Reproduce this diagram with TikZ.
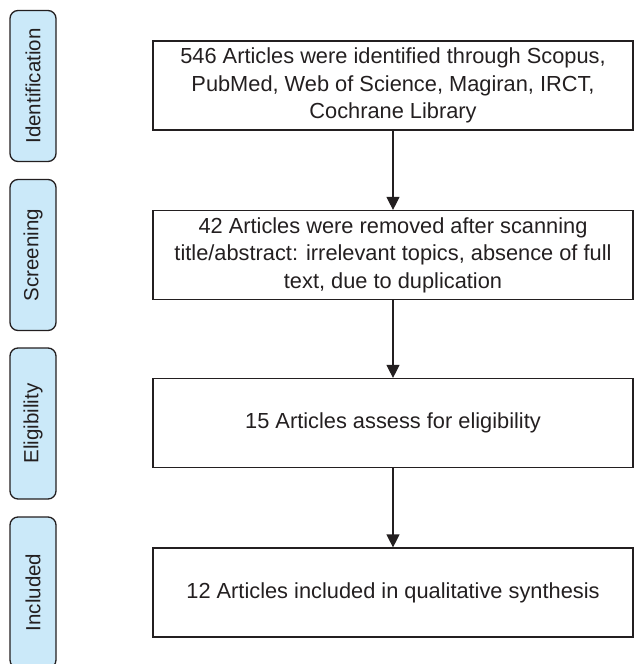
\documentclass[tikz,border=0pt]{standalone}
\usepackage{fontspec}
\setmainfont{Liberation Sans}
\usetikzlibrary{arrows.meta}
\definecolor{tabblue}{HTML}{CBE9F9}
\definecolor{inkgray}{HTML}{231F20}

\begin{document}
\begin{tikzpicture}[x=1pt,y=-1pt]
    \tikzstyle{stage}=[draw=inkgray,line width=1.3pt,fill=tabblue,rounded corners=8pt,
        minimum width=151pt,minimum height=46pt,rotate=90,text=inkgray,
        font=\fontsize{20.5}{24}\selectfont,inner sep=0pt]
    \tikzstyle{record}=[draw=inkgray,line width=1.2pt,minimum width=480pt,minimum height=89pt,
        align=center,text=inkgray,font=\fontsize{21.8}{27.5}\selectfont,inner sep=0pt]
    \tikzstyle{flow}=[draw=inkgray,line width=1.2pt,-{Triangle[width=13pt,length=13pt]}]
    \clip (0,0) rectangle (635,664);
    \useasboundingbox (0,0) rectangle (635,664);
    % phase tabs
    \node[stage] (ident) at (33,86) {Identification};
    \node[stage] (screen) at (33,255) {Screening};
    \node[stage] (elig) at (33,423.5) {Eligibility};
    \node[stage] (incl) at (33,592.5) {Included};
    % records
    \node[record] (found) at (393,85.5) {546 Articles were identified through Scopus,\\PubMed, Web of Science, Magiran, IRCT,\\Cochrane Library};
    \node[record] (removed) at (393,255) {42 Articles were removed after scanning\\title/abstract: irrelevant topics, absence of full\\text, due to duplication};
    \node[record] (assessed) at (393,423) {15 Articles assess for eligibility};
    \node[record] (kept) at (393,592.5) {12 Articles included in qualitative synthesis};
    \draw[flow] (found) -- (removed);
    \draw[flow] (removed) -- (assessed);
    \draw[flow] (assessed) -- (kept);
\end{tikzpicture}
\end{document}
